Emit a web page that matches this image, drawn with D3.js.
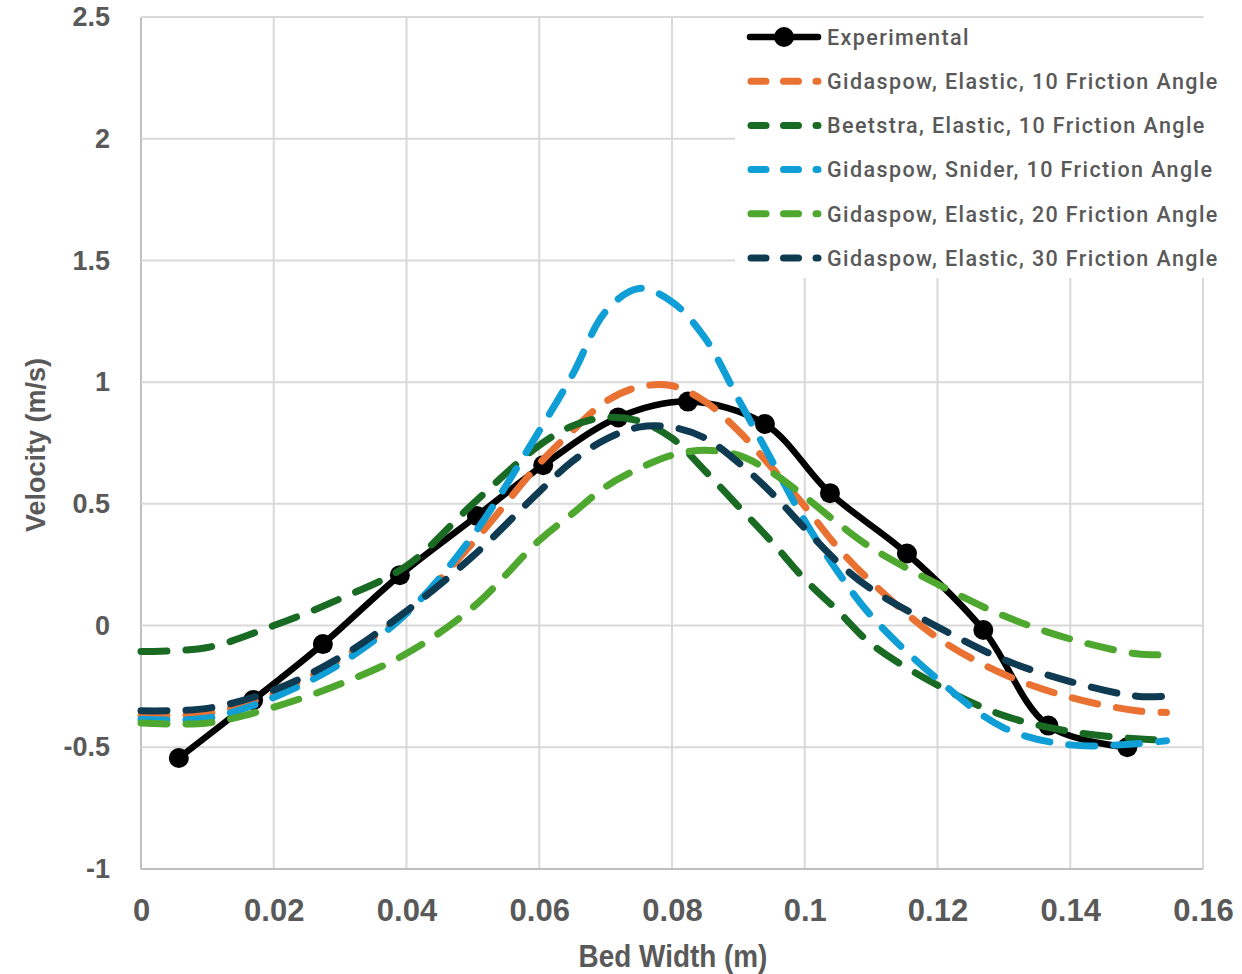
<!DOCTYPE html>
<html>
<head>
<meta charset="utf-8">
<script src="https://cdn.jsdelivr.net/npm/d3@7"></script>
<style>
  html, body { margin: 0; padding: 0; background: #fff; }
  svg { display: block; }
</style>
</head>
<body>
<svg id="chart" width="1242" height="974"></svg>
<script>
// ---------- DATA ----------
const expX = [0.0057, 0.0169, 0.0274, 0.0390, 0.0506, 0.0606, 0.0719, 0.0824, 0.0940, 0.1038, 0.1154, 0.1269, 0.1367, 0.1486];
const expY = [-0.544, -0.306, -0.076, 0.207, 0.450, 0.659, 0.855, 0.920, 0.828, 0.544, 0.296, -0.018, -0.411, -0.500];

const simX = [0, 0.01, 0.02, 0.03, 0.04, 0.05, 0.06, 0.065, 0.07, 0.075, 0.08, 0.085, 0.09, 0.095, 0.1, 0.105, 0.11, 0.12, 0.13, 0.14, 0.15, 0.1545];
const gidaspowElastic10 = [-0.37, -0.36, -0.28, -0.14, 0.055, 0.34, 0.665, 0.80, 0.92, 0.98, 0.985, 0.92, 0.80, 0.65, 0.49, 0.32, 0.18, -0.05, -0.20, -0.295, -0.35, -0.357];
const beetstraElastic10 = [-0.107, -0.09, 0.0, 0.11, 0.245, 0.50, 0.74, 0.82, 0.855, 0.84, 0.77, 0.635, 0.49, 0.345, 0.19, 0.06, -0.075, -0.245, -0.37, -0.435, -0.465, -0.47];
const gidaspowSnider10 = [-0.385, -0.38, -0.295, -0.157, 0.05, 0.37, 0.80, 1.03, 1.29, 1.385, 1.33, 1.18, 0.93, 0.68, 0.43, 0.22, 0.04, -0.22, -0.42, -0.49, -0.485, -0.473];
const gidaspowElastic20 = [-0.40, -0.40, -0.335, -0.24, -0.115, 0.075, 0.35, 0.46, 0.57, 0.645, 0.70, 0.72, 0.70, 0.63, 0.53, 0.42, 0.32, 0.17, 0.04, -0.055, -0.116, -0.12];
const gidaspowElastic30 = [-0.35, -0.34, -0.265, -0.13, 0.06, 0.285, 0.55, 0.675, 0.765, 0.815, 0.815, 0.77, 0.67, 0.545, 0.40, 0.26, 0.15, -0.005, -0.14, -0.23, -0.29, -0.29];

const seriesNames = ["Experimental", "Gidaspow, Elastic, 10 Friction Angle", "Beetstra, Elastic, 10 Friction Angle",
  "Gidaspow, Snider, 10 Friction Angle", "Gidaspow, Elastic, 20 Friction Angle", "Gidaspow, Elastic, 30 Friction Angle"];
const seriesColors = ["#000000", "#E97132", "#196B24", "#0F9ED5", "#4EA72E", "#0E3A52"];

const xTicks = [0, 0.02, 0.04, 0.06, 0.08, 0.1, 0.12, 0.14, 0.16];
const yTicks = [-1, -0.5, 0, 0.5, 1, 1.5, 2, 2.5];
const xTitle = "Bed Width (m)";
const yTitle = "Velocity (m/s)";

// ---------- CHART ----------
const svg = d3.select("#chart");
const pLeft = 141, pRight = 1203, pTop = 17, pBottom = 869;
const x = d3.scaleLinear().domain([0, 0.16]).range([pLeft, pRight]);
const y = d3.scaleLinear().domain([-1, 2.5]).range([pBottom, pTop]);

const grid = svg.append("g");
grid.selectAll(".vg").data(xTicks).join("line")
  .attr("x1", d => x(d)).attr("x2", d => x(d)).attr("y1", pTop).attr("y2", pBottom)
  .attr("stroke", d => d === 0 ? "#bfbfbf" : "#d9d9d9").attr("stroke-width", 2);
grid.selectAll(".hg").data(yTicks).join("line")
  .attr("x1", pLeft).attr("x2", pRight).attr("y1", d => y(d)).attr("y2", d => y(d))
  .attr("stroke", d => d === -1 ? "#bfbfbf" : "#d9d9d9").attr("stroke-width", 2);

const xAxis = svg.append("g").attr("transform", `translate(0,${pBottom})`)
  .call(d3.axisBottom(x).tickValues(xTicks).tickFormat(d => String(+d.toFixed(2))).tickSize(0).tickPadding(30));
xAxis.select(".domain").remove();
xAxis.selectAll("text").attr("fill", "#595959")
  .style("font-family", "'Liberation Sans', Arial, sans-serif")
  .style("font-weight", "bold").style("font-size", "31px");

const yAxis = svg.append("g").attr("transform", `translate(${pLeft},0)`)
  .call(d3.axisLeft(y).tickValues(yTicks).tickFormat(d => String(d)).tickSize(0).tickPadding(31));
yAxis.select(".domain").remove();
yAxis.selectAll("text").attr("fill", "#595959")
  .style("font-family", "'Liberation Sans', Arial, sans-serif")
  .style("font-weight", "bold").style("font-size", "27px");

svg.append("text").attr("transform", "translate(673,967) scale(0.9,1)").attr("text-anchor", "middle")
  .attr("fill", "#595959")
  .style("font-family", "'Liberation Sans', Arial, sans-serif")
  .style("font-weight", "bold").style("font-size", "31px").text(xTitle);

svg.append("text").attr("transform", "translate(45,445) rotate(-90)").attr("text-anchor", "middle")
  .attr("fill", "#595959")
  .style("font-family", "'Liberation Sans', Arial, sans-serif")
  .style("font-weight", "bold").style("font-size", "27px").text(yTitle);

const curve = d3.curveCatmullRom.alpha(0.5);
const line = d3.line().x(d => x(d[0])).y(d => y(d[1])).curve(curve);
const expData = expX.map((v, i) => [v, expY[i]]);
const simSets = [gidaspowElastic10, beetstraElastic10, gidaspowSnider10, gidaspowElastic20, gidaspowElastic30];

const plot = svg.append("g");
plot.append("path").datum(expData).attr("d", line)
  .attr("fill", "none").attr("stroke", seriesColors[0]).attr("stroke-width", 6.5)
  .attr("stroke-linejoin", "round");
plot.selectAll(".mk").data(expData).join("circle")
  .attr("cx", d => x(d[0])).attr("cy", d => y(d[1])).attr("r", 10).attr("fill", "#000");

simSets.forEach((vals, i) => {
  plot.append("path").datum(simX.map((v, j) => [v, vals[j]])).attr("d", line)
    .attr("fill", "none").attr("stroke", seriesColors[i + 1]).attr("stroke-width", 7)
    .attr("stroke-linecap", "round").attr("stroke-dasharray", "26,19");
});

const lg = svg.append("g");
lg.append("rect").attr("x", 735).attr("y", 18).attr("width", 492).attr("height", 260).attr("fill", "#fff");
const rowY = i => 37 + i * 44.2;
seriesNames.forEach((name, i) => {
  const yy = rowY(i);
  if (i === 0) {
    lg.append("line").attr("x1", 750).attr("x2", 818).attr("y1", yy).attr("y2", yy)
      .attr("stroke", "#000").attr("stroke-width", 6.5).attr("stroke-linecap", "round");
    lg.append("circle").attr("cx", 784).attr("cy", yy).attr("r", 10).attr("fill", "#000");
  } else {
    lg.append("line").attr("x1", 751).attr("x2", 818).attr("y1", yy).attr("y2", yy)
      .attr("stroke", seriesColors[i]).attr("stroke-width", 7).attr("stroke-linecap", "round")
      .attr("stroke-dasharray", "15,17.5");
  }
  lg.append("text").attr("x", 827).attr("y", yy).attr("dy", "0.36em")
    .attr("fill", "#595959")
    .style("font-family", "Roboto, 'Noto Sans', sans-serif")
    .style("font-weight", 500).style("font-size", "21.5px").style("letter-spacing", "1.4px")
    .text(name);
});
</script>
</body>
</html>
